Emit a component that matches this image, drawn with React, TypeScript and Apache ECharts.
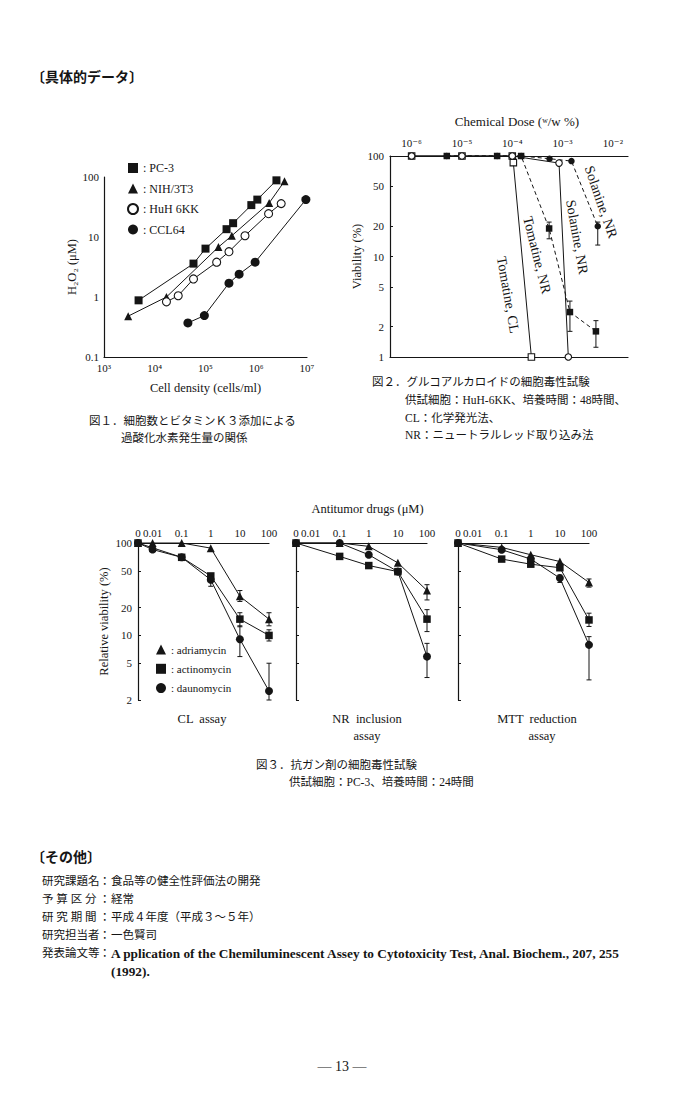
import React, { useEffect, useRef } from 'react';
import * as echarts from 'echarts';

// ---------- Fig.1 : H2O2 vs cell density ----------
const FIG1_PC3: [number, number][] = [[4.8e3, 0.88], [5.8e4, 3.6], [1.0e5, 6.4], [2.6e5, 13.5], [3.5e5, 17], [8e5, 34], [1.05e6, 42], [2.5e6, 88]];
const FIG1_NIH: [number, number][] = [[3e3, 0.48], [1.7e4, 1.0], [1.8e5, 6.8], [3.3e5, 10.5], [1.8e6, 37], [3.6e6, 85]];
const FIG1_HUH: [number, number][] = [[1.7e4, 0.83], [2.9e4, 1.05], [5.8e4, 2.0], [1.66e5, 3.8], [2.9e5, 5.7], [6e5, 10.5], [1.75e6, 24.5], [3.1e6, 36]];
const FIG1_CCL: [number, number][] = [[4.5e4, 0.37], [9.5e4, 0.49], [2.9e5, 1.7], [4.6e5, 2.4], [9.5e5, 3.8], [9.5e6, 42]];

// ---------- Fig.2 : glycoalkaloid cytotoxicity ----------
const FIG2_TOM_CL: [number, number][] = [[1e-6, 100], [1e-5, 100], [1e-4, 100], [1.05e-4, 86], [2.4e-4, 1]];
const FIG2_SOL_CL: [number, number][] = [[1e-6, 100], [1e-5, 100], [1e-4, 100], [8.5e-4, 85], [1.3e-3, 1]];
const FIG2_TOM_NR: [number, number][] = [[5e-6, 100], [5e-5, 100], [1.5e-4, 100], [5.4e-4, 19], [1.4e-3, 2.8], [4.6e-3, 1.8]];
const FIG2_SOL_NR: [number, number][] = [[5e-6, 100], [5e-5, 100], [1.5e-4, 100], [5.5e-4, 94], [1.5e-3, 89], [5e-3, 20]];
const FIG2_ERR: [number, number, number][] = [[5.4e-4, 15, 22], [1.4e-3, 1.8, 3.6], [4.6e-3, 1.25, 2.3], [5e-3, 13, 22]];
const FIG2_XTICKS = [1e-6, 1e-5, 1e-4, 1e-3, 1e-2];
const FIG2_YTICKS = [1, 2, 5, 10, 20, 50, 100];

// ---------- Fig.3 : antitumor drugs ----------
const FIG3_DOSES = [0, 0.01, 0.1, 1, 10, 100];
const FIG3_XTICKS = [0, 0.01, 0.1, 1, 10, 100];
const FIG3_YTICKS = [2, 5, 10, 20, 50, 100];
const CL_ADRIA = [100, 100, 100, 88, 26.5, 15];
const CL_ACTINO = [100, null, 70, 44, 15, 10];
const CL_DAUNO = [100, 85, 70, 40, 9.1, 2.5];
const CL_ERR: [number, number, number][] = [[10, 23.3, 30.6], [100, 12.7, 17.6], [10, 12.4, 17.6], [100, 8.7, 11.5], [1, 34, 40], [10, 5.9, 12.7], [100, 2.0, 5.0]];
const NR_ADRIA = [100, null, 100, 92, 61, 30.6];
const NR_ACTINO = [100, null, 71.6, 57, 49, 15];
const NR_DAUNO = [100, null, 100, 74.6, 49, 5.9];
const NR_ERR: [number, number, number][] = [[100, 24.2, 35.4], [100, 11, 19], [100, 3.5, 8.2]];
const MTT_ADRIA = [100, null, 89.6, 74.6, 63, 37.4];
const MTT_ACTINO = [100, null, 67, 59, 54, 14.7];
const MTT_DAUNO = [100, null, 84.6, 67, 41.7, 7.9];
const MTT_ERR: [number, number, number][] = [[100, 33.3, 40.8], [100, 12.5, 17.4], [10, 37.4, 45], [100, 3.3, 9.7]];

const INK = '#151515';
const SERIF = '"Liberation Serif", "DejaVu Serif", serif';
const JP = '"Liberation Serif", "Noto Sans CJK JP", sans-serif';
const X0 = Math.pow(10, -2.5); // position of the "0" dose (axis start)

const SUP: Record<string, string> = { '-': '⁻', '0': '⁰', '1': '¹', '2': '²', '3': '³', '4': '⁴', '5': '⁵', '6': '⁶', '7': '⁷', '8': '⁸', '9': '⁹' };
const pow10Label = (v: number) => '10' + String(Math.round(Math.log10(v))).split('').map((c) => SUP[c]).join('');
const numLabel = (v: number) => String(+v.toPrecision(2));

function errRender(params: any, api: any) {
  const x = api.value(0), lo = api.value(1), hi = api.value(2);
  const a = api.coord([x, lo]);
  const b = api.coord([x, hi]);
  const w = 2.5;
  const st = { stroke: INK, lineWidth: 1 };
  return {
    type: 'group',
    children: [
      { type: 'line', shape: { x1: a[0], y1: a[1], x2: b[0], y2: b[1] }, style: st },
      { type: 'line', shape: { x1: a[0] - w, y1: a[1], x2: a[0] + w, y2: a[1] }, style: st },
      { type: 'line', shape: { x1: b[0] - w, y1: b[1], x2: b[0] + w, y2: b[1] }, style: st },
    ],
  };
}

function lineSeries(name: string, data: any[], xi: number, yi: number, symbol: string, size: number, filled: boolean, dashed = false) {
  return {
    type: 'line', name, data, xAxisIndex: xi, yAxisIndex: yi, symbol, symbolSize: size,
    showSymbol: true, clip: false, z: 3,
    lineStyle: { color: INK, width: 1, type: dashed ? [4, 3] : 'solid' },
    itemStyle: filled ? { color: INK, borderColor: INK, borderWidth: 0 } : { color: '#fff', borderColor: INK, borderWidth: 1.1 },
    emphasis: { disabled: true },
  };
}

function errSeries(data: any[], xi: number, yi: number) {
  return { type: 'custom', data, xAxisIndex: xi, yAxisIndex: yi, encode: { x: 0, y: [1, 2] }, renderItem: errRender, clip: false, z: 2, silent: true };
}

const fig3Pts = (vals: (number | null)[]) =>
  FIG3_DOSES.map((d, i) => (vals[i] == null ? null : [d === 0 ? X0 : d, vals[i]])).filter((p) => p !== null);

const axisLineStyle = { show: true, lineStyle: { color: INK, width: 1.2 } };
const labelBase = { color: INK, fontFamily: SERIF, fontSize: 11 };

function fig3X(grid: number, withName: boolean) {
  return {
    gridIndex: grid, type: 'log', logBase: 10, min: X0, max: 100, position: 'top',
    axisLine: axisLineStyle, axisTick: { show: false }, splitLine: { show: false },
    axisLabel: {
      ...labelBase, margin: 5,
      customValues: FIG3_XTICKS.map((v) => (v === 0 ? X0 * 1.0001 : v)),
      formatter: (v: number) => (v < 0.005 ? '0' : numLabel(v)),
    },
    ...(withName ? { name: 'Antitumor drugs (μM)', nameLocation: 'middle', nameGap: 28, nameTextStyle: { color: INK, fontFamily: SERIF, fontSize: 12.5, padding: [0, 0, 0, 12] } } : {}),
  };
}

function fig3Y(grid: number, showLabels: boolean) {
  return {
    gridIndex: grid, type: 'log', logBase: 10, min: 2, max: 100,
    axisLine: axisLineStyle,
    axisTick: { show: true, inside: true, length: 3, customValues: FIG3_YTICKS, lineStyle: { color: INK } },
    splitLine: { show: false },
    axisLabel: { ...labelBase, show: showLabels, margin: 6, customValues: FIG3_YTICKS, formatter: numLabel },
    ...(showLabels ? { name: 'Relative viability (%)', nameLocation: 'middle', nameGap: 28, nameTextStyle: { color: INK, fontFamily: SERIF, fontSize: 12.5 } } : {}),
  };
}

function txt(text: string, x: number, y: number, size = 11.5, opts: any = {}) {
  return {
    type: 'text', x, y, rotation: opts.rotation || 0, silent: true,
    style: {
      text, fill: INK, fontSize: size, fontFamily: opts.font || JP, fontWeight: opts.bold ? 'bold' : 'normal',
      align: opts.align || 'left', verticalAlign: 'middle',
    },
  };
}

function buildOption() {
  const series: any[] = [
    // Fig 1
    lineSeries('PC-3', FIG1_PC3, 0, 0, 'rect', 8, true),
    lineSeries('NIH/3T3', FIG1_NIH, 0, 0, 'triangle', 8, true),
    lineSeries('HuH 6KK', FIG1_HUH, 0, 0, 'circle', 8, false),
    lineSeries('CCL64', FIG1_CCL, 0, 0, 'circle', 9, true),
    // Fig 2
    lineSeries('Tomatine, CL', FIG2_TOM_CL, 1, 1, 'rect', 6.5, false),
    lineSeries('Solanine, CL', FIG2_SOL_CL, 1, 1, 'circle', 6.5, false),
    lineSeries('Tomatine, NR', FIG2_TOM_NR, 1, 1, 'rect', 6.5, true, true),
    lineSeries('Solanine, NR', FIG2_SOL_NR, 1, 1, 'circle', 6.5, true, true),
    errSeries(FIG2_ERR, 1, 1),
  ];
  const panels = [
    [CL_ADRIA, CL_ACTINO, CL_DAUNO, CL_ERR],
    [NR_ADRIA, NR_ACTINO, NR_DAUNO, NR_ERR],
    [MTT_ADRIA, MTT_ACTINO, MTT_DAUNO, MTT_ERR],
  ] as any[];
  panels.forEach((p, i) => {
    const xi = 3 + i, yi = 2 + i;
    series.push(errSeries(p[3], xi, yi));
    series.push(lineSeries('adriamycin', fig3Pts(p[0]), xi, yi, 'triangle', 8, true));
    series.push(lineSeries('actinomycin', fig3Pts(p[1]), xi, yi, 'rect', 7.5, true));
    series.push(lineSeries('daunomycin', fig3Pts(p[2]), xi, yi, 'circle', 8, true));
  });

  const grid = [
    { left: 104, top: 177, width: 203, height: 180 },
    { left: 390, top: 156, width: 238, height: 201 },
    { left: 138, top: 543, width: 131, height: 157 },
    { left: 296, top: 543, width: 131, height: 157 },
    { left: 458, top: 543, width: 131, height: 157 },
  ].map((g) => ({ ...g, containLabel: false, outerBoundsMode: 'none' }));

  const xAxis: any[] = [
    {
      gridIndex: 0, type: 'log', logBase: 10, min: 1e3, max: 1e7,
      axisLine: axisLineStyle, axisTick: { show: false }, splitLine: { show: false },
      axisLabel: { ...labelBase, margin: 5, formatter: pow10Label },
      name: 'Cell density (cells/ml)', nameLocation: 'middle', nameGap: 24,
      nameTextStyle: { color: INK, fontFamily: SERIF, fontSize: 12.5 },
    },
    {
      gridIndex: 1, type: 'log', logBase: 10, min: Math.pow(10, -6.43), max: Math.pow(10, -1.7), position: 'top',
      axisLine: axisLineStyle, axisTick: { show: false }, splitLine: { show: false },
      axisLabel: { ...labelBase, margin: 8, customValues: FIG2_XTICKS, formatter: pow10Label },
      name: 'Chemical Dose (ʷ/w %)', nameLocation: 'middle', nameGap: 28,
      nameTextStyle: { color: INK, fontFamily: SERIF, fontSize: 13, padding: [0, 0, 0, 16] },
    },
    {
      gridIndex: 1, type: 'log', logBase: 10, min: Math.pow(10, -6.43), max: Math.pow(10, -1.7), position: 'bottom',
      axisLine: axisLineStyle, axisTick: { show: false }, splitLine: { show: false }, axisLabel: { show: false },
    },
    fig3X(2, false),
    fig3X(3, true),
    fig3X(4, false),
  ];

  const yAxis: any[] = [
    {
      gridIndex: 0, type: 'log', logBase: 10, min: 0.1, max: 100,
      axisLine: axisLineStyle, axisTick: { show: false }, splitLine: { show: false },
      axisLabel: { ...labelBase, margin: 5, formatter: numLabel },
      name: 'H₂O₂ (μM)', nameLocation: 'middle', nameGap: 16,
      nameTextStyle: { color: INK, fontFamily: SERIF, fontSize: 12.5 },
    },
    {
      gridIndex: 1, type: 'log', logBase: 10, min: 1, max: 100,
      axisLine: axisLineStyle,
      axisTick: { show: true, inside: true, length: 3, customValues: FIG2_YTICKS, lineStyle: { color: INK } },
      splitLine: { show: false },
      axisLabel: { ...labelBase, margin: 6, customValues: FIG2_YTICKS, formatter: numLabel },
      name: 'Viability (%)', nameLocation: 'middle', nameGap: 22,
      nameTextStyle: { color: INK, fontFamily: SERIF, fontSize: 12.5 },
    },
    fig3Y(2, true),
    fig3Y(3, false),
    fig3Y(4, false),
  ];

  const legend = [
    {
      data: [{ name: 'PC-3', icon: 'rect' }, { name: 'NIH/3T3', icon: 'triangle' }, { name: 'HuH 6KK', icon: 'circle' }, { name: 'CCL64', icon: 'circle' }],
      orient: 'vertical', left: 122, top: 157, itemWidth: 10, itemHeight: 10, itemGap: 8.5,
      formatter: ': {name}', selectedMode: false,
      textStyle: { color: INK, fontFamily: SERIF, fontSize: 12 },
    },
    {
      data: [{ name: 'adriamycin', icon: 'triangle' }, { name: 'actinomycin', icon: 'rect' }, { name: 'daunomycin', icon: 'circle' }],
      orient: 'vertical', left: 151, top: 639, itemWidth: 10, itemHeight: 10, itemGap: 8.3,
      formatter: ': {name}', selectedMode: false,
      textStyle: { color: INK, fontFamily: SERIF, fontSize: 11 },
    },
  ];

  const ROT = (deg: number) => (-deg * Math.PI) / 180;
  const graphic = [
    txt('〔具体的データ〕', 31, 77, 14, { bold: true }),
    // Fig.1 caption
    txt('図１．細胞数とビタミンＫ３添加による', 89, 421, 11.5),
    txt('過酸化水素発生量の関係', 121, 438, 11.5),
    // Fig.2 in-plot labels
    txt('Solanine, NR', 601, 202, 14, { font: SERIF, align: 'center', rotation: ROT(71) }),
    txt('Solanine, NR', 577, 237, 14, { font: SERIF, align: 'center', rotation: ROT(80) }),
    txt('Tomatine, NR', 537, 255, 14, { font: SERIF, align: 'center', rotation: ROT(76) }),
    txt('Tomatine, CL', 508, 295, 14, { font: SERIF, align: 'center', rotation: ROT(80) }),
    // Fig.2 caption
    txt('図２．グルコアルカロイドの細胞毒性試験', 372, 382, 11.5),
    txt('供試細胞：HuH-6KK、培養時間：48時間、', 405, 400, 11.5),
    txt('CL：化学発光法、', 405, 418, 11.5),
    txt('NR：ニュートラルレッド取り込み法', 405, 435, 11.5),
    // Fig.3 panel titles
    txt('CL  assay', 202, 719, 12.5, { font: SERIF, align: 'center' }),
    txt('NR  inclusion', 367, 719, 12.5, { font: SERIF, align: 'center' }),
    txt('assay', 367, 736, 12.5, { font: SERIF, align: 'center' }),
    txt('MTT  reduction', 537, 719, 12.5, { font: SERIF, align: 'center' }),
    txt('assay', 542, 736, 12.5, { font: SERIF, align: 'center' }),
    // Fig.3 caption
    txt('図３．抗ガン剤の細胞毒性試験', 256, 765, 11.5),
    txt('供試細胞：PC-3、培養時間：24時間', 289, 782, 11.5),
    // Other section
    txt('〔その他〕', 31, 857, 14, { bold: true }),
    txt('研究課題名', 42, 881, 11.5), txt('：', 99, 881, 11.5), txt('食品等の健全性評価法の開発', 111, 881, 11.5),
    txt('予 算 区 分', 42, 899, 11.5), txt('：', 99, 899, 11.5), txt('経常', 111, 899, 11.5),
    txt('研 究 期 間', 42, 917, 11.5), txt('：', 99, 917, 11.5), txt('平成４年度（平成３～５年）', 111, 917, 11.5),
    txt('研究担当者', 42, 935, 11.5), txt('：', 99, 935, 11.5), txt('一色賢司', 111, 935, 11.5),
    txt('発表論文等', 42, 953, 11.5), txt('：', 99, 953, 11.5),
    txt('A pplication of the Chemiluminescent Assey to Cytotoxicity Test, Anal. Biochem., 207, 255', 111, 953, 13.3, { font: SERIF, bold: true }),
    txt('(1992).', 111, 971, 13.3, { font: SERIF, bold: true }),
    txt('— 13 —', 342, 1066, 14, { font: SERIF, align: 'center' }),
  ];

  return { animation: false, backgroundColor: '#ffffff', grid, xAxis, yAxis, legend, series, graphic };
}

export default function App() {
  const ref = useRef<HTMLDivElement>(null);
  useEffect(() => {
    if (!ref.current) return;
    const chart = echarts.init(ref.current, undefined, { renderer: 'svg' });
    chart.setOption(buildOption() as any);
    return () => chart.dispose();
  }, []);
  return <div ref={ref} style={{ position: 'absolute', left: 0, top: 0, width: 700, height: 1100, background: '#fff' }} />;
}
